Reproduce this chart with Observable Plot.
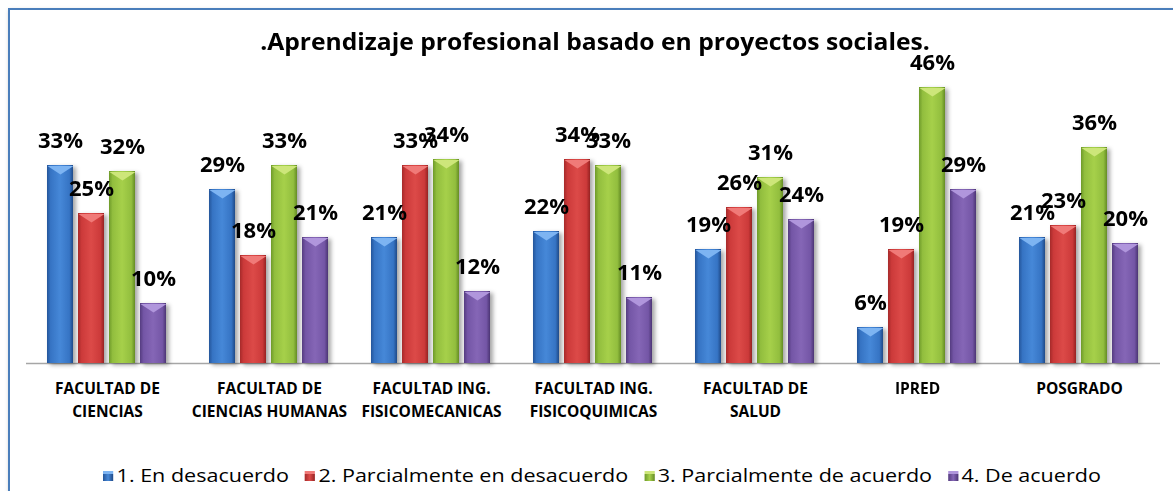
<!DOCTYPE html>
<html>
<head>
<meta charset="utf-8">
<script src="https://cdn.jsdelivr.net/npm/d3@7"></script>
<script src="https://cdn.jsdelivr.net/npm/@observablehq/plot@0.6"></script>
<style>
html, body { margin: 0; padding: 0; background: #fff; }
#wrap { position: relative; width: 1173px; height: 491px; overflow: hidden; font-family: "Open Sans", sans-serif; background: #fff; }
#frame { position: absolute; left: 8px; top: 8px; width: 1220px; height: 620px; border: 2px solid #4A7EBB; box-shadow: 1px 2px 4px rgba(0,0,0,0.25); }
#title { position: absolute; left: 595px; top: 29px; transform: translateX(-50%) scaleX(1.026); white-space: nowrap; font-weight: 700; font-size: 24px; line-height: 24px; color: #000; }
#chart { position: absolute; left: 0; top: 0; }
#legend { position: absolute; left: 103px; top: 466px; display: flex; align-items: center; font-size: 19px; line-height: 19px; color: #000; white-space: nowrap; transform: scaleX(1.133); transform-origin: 0 50%; }
#legend .item { display: flex; align-items: center; margin-right: 14px; }
#legend .sw { width: 9px; height: 10px; margin-right: 3px; box-sizing: border-box; }
</style>
</head>
<body>
<div id="wrap">
  <div id="frame"></div>
  <div id="chart"></div>
  <div id="title"></div>
  <div id="legend"></div>
</div>
<script>
// ---- Data ----
const chartTitle = ".Aprendizaje profesional basado en proyectos sociales.";
const categories = [
  "FACULTAD DE CIENCIAS",
  "FACULTAD DE CIENCIAS HUMANAS",
  "FACULTAD ING. FISICOMECANICAS",
  "FACULTAD ING. FISICOQUIMICAS",
  "FACULTAD DE SALUD",
  "IPRED",
  "POSGRADO"
];
const labelLine1 = ["FACULTAD DE", "FACULTAD DE", "FACULTAD ING.", "FACULTAD ING.", "FACULTAD DE", "IPRED", "POSGRADO"];
const labelLine2 = ["CIENCIAS", "CIENCIAS HUMANAS", "FISICOMECANICAS", "FISICOQUIMICAS", "SALUD", "", ""];
const series = ["1. En desacuerdo", "2. Parcialmente en desacuerdo", "3. Parcialmente de acuerdo", "4. De acuerdo"];
const enDesacuerdo      = [0.33, 0.29, 0.21, 0.22, 0.19, 0.06, 0.21];
const parcialDesacuerdo = [0.25, 0.18, 0.33, 0.34, 0.26, 0.19, 0.23];
const parcialAcuerdo    = [0.32, 0.33, 0.34, 0.33, 0.31, 0.46, 0.36];
const deAcuerdo         = [0.10, 0.21, 0.12, 0.11, 0.24, 0.29, 0.20];

// ---- Styles ----
const gradStops = [
  ["#24559A", "#3674C4", "#4688D8", "#3674C4", "#1F4A88"],
  ["#A62A2A", "#CC3A3A", "#DC4A48", "#CC3A3A", "#962222"],
  ["#6E9A2A", "#92BE3E", "#A6D04A", "#92BE3E", "#648C24"],
  ["#553C80", "#7456A6", "#8566B6", "#7456A6", "#4C3574"]
];
const highlight = ["#7DB4F2", "#F07A78", "#CDE67A", "#B096DC"];

// gradients
const defsSvg = d3.select("body").append("svg").attr("width", 0).attr("height", 0).style("position", "absolute");
const defs = defsSvg.append("defs");
gradStops.forEach((stops, j) => {
  const g = defs.append("linearGradient").attr("id", "g" + j).attr("x1", 0).attr("x2", 1).attr("y1", 0).attr("y2", 0);
  [0, 0.14, 0.5, 0.86, 1].forEach((o, k) => g.append("stop").attr("offset", o).attr("stop-color", stops[k]));
});

const valuesBySeries = [enDesacuerdo, parcialDesacuerdo, parcialAcuerdo, deAcuerdo];
const rows = [];
categories.forEach((c, i) => {
  series.forEach((s, j) => {
    rows.push({cat: c, series: s, si: j, value: valuesBySeries[j][i], l1: labelLine1[i], l2: labelLine2[i]});
  });
});

const tri = {
  draw(ctx) {
    const w = 13, h = 9;
    ctx.moveTo(-w, 0.5); ctx.lineTo(w, 0.5); ctx.lineTo(0, h); ctx.closePath();
  }
};

const marks = [Plot.ruleY([0], {stroke: "#A6A6A6", strokeWidth: 1.5})];
series.forEach((s, j) => {
  marks.push(Plot.barY(rows, {filter: d => d.si === j, x: "series", y: "value", fill: `url(#g${j})`}));
  marks.push(Plot.dot(rows, {filter: d => d.si === j, x: "series", y: "value", symbol: tri, fill: highlight[j], stroke: "none"}));
});
marks.push(Plot.text(rows, {
  x: "series", y: "value", text: d => Math.round(d.value * 100) + "%",
  lineAnchor: "bottom", dy: -18, fontSize: 22, fontWeight: "bold", fill: "#000", fontFamily: "Open Sans"
}));
marks.push(Plot.text(rows, {
  filter: d => d.si === 0, text: "l1", frameAnchor: "bottom", lineAnchor: "bottom", dy: 30,
  fontSize: 15.5, fontWeight: "bold", fill: "#000", fontFamily: "Open Sans"
}));
marks.push(Plot.text(rows, {
  filter: d => d.si === 0, text: "l2", frameAnchor: "bottom", lineAnchor: "bottom", dy: 53,
  fontSize: 15.5, fontWeight: "bold", fill: "#000", fontFamily: "Open Sans"
}));

const chart = Plot.plot({
  width: 1173,
  height: 430,
  marginTop: 63,
  marginBottom: 67,
  marginLeft: 25,
  marginRight: 13,
  style: {background: "transparent", fontFamily: "Open Sans", overflow: "visible"},
  facet: {data: rows, x: "cat"},
  fx: {domain: categories, padding: 0, axis: null, label: null},
  x: {domain: series, paddingInner: 0.156, paddingOuter: 0.61, axis: null, label: null},
  y: {domain: [0, 0.5], axis: null, label: null},
  marks
});
d3.select(chart).selectAll('g[aria-label="bar"]').style("filter", "drop-shadow(3px 2px 2px rgba(0,0,0,0.35))");
document.getElementById("chart").appendChild(chart);

document.getElementById("title").textContent = chartTitle;

const legend = d3.select("#legend");
series.forEach((s, j) => {
  const it = legend.append("div").attr("class", "item");
  it.append("div").attr("class", "sw")
    .style("background", `linear-gradient(to right, ${gradStops[j][0]}, ${gradStops[j][2]} 50%, ${gradStops[j][4]})`)
    .style("border-top", `3px solid ${highlight[j]}`);
  it.append("span").text(s);
});
</script>
</body>
</html>
